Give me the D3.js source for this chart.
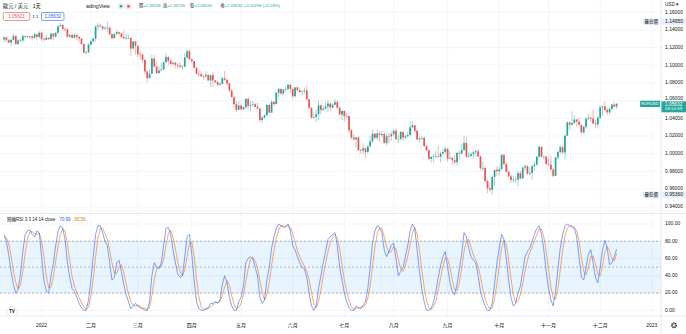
<!DOCTYPE html>
<html><head><meta charset="utf-8">
<script src="https://cdn.jsdelivr.net/npm/d3@7"></script>
<style>
html,body{margin:0;padding:0;background:#fff;}
svg{display:block;font-family:"Liberation Sans","Noto Sans CJK TC",sans-serif;}
</style></head><body>
<svg id="chart" width="686" height="334"></svg>
<script>
// EUR/USD daily candles, 10 Dec 2021 .. 12 Dec 2022 (bar 0 = 3 Jan 2022)
const firstBar = -16;
const opens = [
 1.1293,1.1316,1.1284,1.1258,1.1289,1.1331,1.1239,1.1281,1.1282,1.1330,1.1330,1.1320,1.1327,1.1310,1.1350,1.1322,
 1.1370,1.1297,1.1289,1.1312,1.1296,1.1360,1.1325,1.1368,1.1441,1.1455,1.1412,1.1408,1.1325,1.1343,1.1312,1.1344,1.1324,1.1303,1.1240,1.1144,1.1147,
 1.1235,1.1272,1.1302,1.1440,1.1451,1.1442,1.1415,1.1422,1.1426,1.1350,1.1307,1.1356,1.1375,1.1360,1.1321,1.1307,1.1307,1.1308,1.1191,1.1270,
 1.1220,1.1125,1.1121,1.1062,1.0930,1.0855,1.0906,1.1076,1.0986,1.0912,1.0942,1.0953,1.1035,1.1094,1.1050,1.1016,1.1029,1.1005,1.0996,1.0983,1.0985,1.1089,1.1159,
 1.1067,1.1048,1.0972,1.0904,1.0901,1.0877,1.0875,1.0889,1.0828,1.0889,1.0829,1.0810,1.0780,1.0789,1.0854,1.0837,1.0795,1.0715,1.0640,1.0560,1.0497,
 1.0545,1.0502,1.0524,1.0620,1.0542,1.0552,1.0559,1.0530,1.0512,1.0381,1.0412,1.0435,1.0551,1.0464,1.0585,1.0562,1.0690,1.0734,1.0681,1.0725,1.0733,1.0780,
 1.0733,1.0650,1.0750,1.0719,1.0697,1.0705,1.0716,1.0615,1.0519,1.0409,1.0416,1.0448,1.0548,1.0496,1.0510,1.0535,1.0567,1.0522,1.0554,1.0584,1.0519,1.0443,
 1.0484,1.0426,1.0425,1.0265,1.0183,1.0162,1.0184,1.0038,1.0036,1.0060,1.0018,1.0080,1.0141,1.0225,1.0180,1.0229,1.0211,1.0223,1.0121,1.0198,1.0197,
 1.0220,1.0260,1.0163,1.0166,1.0246,1.0182,1.0197,1.0212,1.0298,1.0321,1.0259,1.0160,1.0172,1.0179,1.0087,1.0037,0.9941,0.9966,0.9967,0.9973,0.9965,1.0004,1.0019,
 1.0055,0.9944,0.9953,0.9925,0.9903,1.0010,1.0000,1.0040,1.0121,0.9968,0.9977,0.9997,1.0016,1.0027,0.9970,0.9836,0.9837,0.9690,0.9607,0.9591,0.9736,0.9817,
 0.9802,0.9826,0.9986,0.9883,0.9794,0.9742,0.9703,0.9705,0.9707,0.9779,0.9721,0.9843,0.9858,0.9774,0.9782,0.9861,0.9877,0.9964,1.0077,0.9965,0.9966,
 0.9883,0.9876,0.9820,0.9749,0.9958,1.0019,1.0073,1.0014,1.0203,1.0355,1.0327,1.0348,1.0386,1.0363,1.0326,1.0241,1.0304,1.0396,1.0407,1.0398,1.0341,1.0331,
 1.0407,1.0524,1.0535,1.0494,1.0467,1.0506,1.0556,1.05336
];
const highs = [
 1.1327,1.1325,1.1300,1.1298,1.1360,1.1345,1.1306,1.1302,1.1345,1.1342,1.1337,1.1334,1.1339,1.1367,1.1360,1.1386,
 1.1376,1.1323,1.1346,1.1321,1.1364,1.1361,1.1375,1.1450,1.1482,1.1464,1.1425,1.1414,1.1353,1.1369,1.1363,1.1348,1.1330,1.1306,1.1245,1.1164,1.1245,
 1.1280,1.1313,1.1449,1.1483,1.1470,1.1448,1.1446,1.1495,1.1442,1.1367,1.1368,1.1395,1.1385,1.1370,1.1395,1.1357,1.1345,1.1322,1.1274,1.1278,
 1.1233,1.1156,1.1128,1.1068,1.0941,1.0955,1.1122,1.1122,1.1038,1.0984,1.1030,1.1045,1.1137,1.1107,1.1074,1.1041,1.1043,1.1025,1.1036,1.1000,1.1138,1.1185,1.1184,
 1.1076,1.1054,1.0985,1.0938,1.0935,1.0892,1.0933,1.0903,1.0899,1.0924,1.0838,1.0823,1.0810,1.0867,1.0936,1.0849,1.0805,1.0737,1.0657,1.0592,1.0594,
 1.0564,1.0544,1.0628,1.0642,1.0599,1.0596,1.0578,1.0578,1.0514,1.0422,1.0445,1.0562,1.0565,1.0606,1.0597,1.0697,1.0748,1.0737,1.0734,1.0765,1.0787,1.0786,
 1.0738,1.0751,1.0764,1.0748,1.0709,1.0748,1.0774,1.0621,1.0523,1.0469,1.0506,1.0601,1.0555,1.0546,1.0583,1.0606,1.0579,1.0570,1.0615,1.0606,1.0531,1.0487,
 1.0486,1.0462,1.0436,1.0274,1.0221,1.0186,1.0199,1.0059,1.0120,1.0072,1.0096,1.0201,1.0269,1.0235,1.0278,1.0254,1.0258,1.0248,1.0223,1.0235,1.0254,
 1.0274,1.0294,1.0210,1.0254,1.0253,1.0222,1.0248,1.0368,1.0368,1.0327,1.0268,1.0202,1.0202,1.0191,1.0096,1.0049,0.9969,0.9999,1.0029,1.0090,1.0026,1.0054,1.0080,
 1.0059,1.0033,0.9962,0.9989,1.0012,1.0030,1.0113,1.0198,1.0187,1.0020,1.0017,1.0036,1.0049,1.0050,0.9976,0.9907,0.9851,0.9710,0.9671,0.9752,0.9817,0.9854,
 0.9854,0.9999,0.9998,0.9902,0.9815,0.9757,0.9752,0.9744,0.9807,0.9808,0.9853,0.9876,0.9873,0.9846,0.9870,0.9907,0.9976,1.0094,1.0088,0.9976,0.9977,
 0.9952,0.9976,0.9828,0.9966,1.0033,1.0096,1.0095,1.0222,1.0365,1.0364,1.0480,1.0437,1.0393,1.0408,1.0328,1.0314,1.0408,1.0448,1.0428,1.0497,1.0382,1.0429,
 1.0545,1.0545,1.0595,1.0520,1.0530,1.0566,1.0588,1.05745
];
const lows = [
 1.1263,1.1262,1.1252,1.1222,1.1285,1.1236,1.1234,1.1260,1.1268,1.1300,1.1310,1.1295,1.1290,1.1300,1.1290,1.1300,
 1.1280,1.1272,1.1285,1.1285,1.1290,1.1285,1.1310,1.1357,1.1439,1.1396,1.1390,1.1311,1.1313,1.1301,1.1306,1.1286,1.1263,1.1235,1.1136,1.1121,1.1139,
 1.1222,1.1260,1.1268,1.1390,1.1422,1.1395,1.1403,1.1375,1.1343,1.1280,1.1301,1.1340,1.1335,1.1305,1.1300,1.1290,1.1300,1.1106,1.1176,1.1120,
 1.1090,1.1057,1.1033,1.0900,1.0806,1.0850,1.0903,1.0980,1.0902,1.0905,1.0940,1.0946,1.1025,1.1004,1.0998,1.0988,1.0966,1.0964,1.0966,1.0944,1.0975,1.1070,1.1059,
 1.1027,1.0966,1.0897,1.0873,1.0868,1.0837,1.0859,1.0821,1.0758,1.0757,1.0801,1.0761,1.0770,1.0786,1.0823,1.0770,1.0697,1.0636,1.0516,1.0471,1.0492,
 1.0490,1.0492,1.0505,1.0494,1.0483,1.0532,1.0520,1.0503,1.0354,1.0349,1.0389,1.0428,1.0459,1.0461,1.0532,1.0554,1.0642,1.0662,1.0664,1.0699,1.0722,1.0682,
 1.0627,1.0640,1.0706,1.0692,1.0653,1.0678,1.0612,1.0506,1.0398,1.0397,1.0360,1.0382,1.0444,1.0480,1.0499,1.0469,1.0492,1.0512,1.0549,1.0509,1.0437,1.0382,
 1.0366,1.0409,1.0236,1.0161,1.0144,1.0072,1.0034,0.9999,0.9998,0.9952,1.0007,1.0078,1.0122,1.0160,1.0153,1.0131,1.0181,1.0111,1.0095,1.0113,1.0144,
 1.0198,1.0160,1.0122,1.0147,1.0141,1.0159,1.0180,1.0203,1.0296,1.0239,1.0155,1.0123,1.0152,1.0074,1.0033,0.9926,0.9900,0.9903,0.9947,0.9948,0.9900,0.9980,0.9993,
 0.9910,0.9940,0.9877,0.9880,0.9864,0.9930,0.9995,1.0038,0.9955,0.9955,0.9956,0.9945,0.9967,0.9960,0.9810,0.9808,0.9668,0.9554,0.9571,0.9536,0.9634,0.9748,
 0.9752,0.9809,0.9875,0.9788,0.9730,0.9669,0.9669,0.9667,0.9632,0.9703,0.9716,0.9807,0.9757,0.9752,0.9705,0.9808,0.9861,0.9957,0.9958,0.9925,0.9870,
 0.9853,0.9815,0.9730,0.9747,0.9924,0.9994,1.0000,0.9935,1.0198,1.0271,1.0323,1.0340,1.0300,1.0326,1.0223,1.0227,1.0282,1.0381,1.0361,1.0336,1.0289,1.0288,
 1.0393,1.0429,1.0482,1.0442,1.0443,1.0500,1.0520,1.05060
];
const closes = [
 1.1316,1.1284,1.1258,1.1289,1.1331,1.1239,1.1281,1.1282,1.1330,1.1330,1.1320,1.1327,1.1310,1.1350,1.1322,1.1370,
 1.1297,1.1289,1.1312,1.1296,1.1360,1.1325,1.1368,1.1441,1.1455,1.1412,1.1408,1.1325,1.1343,1.1312,1.1344,1.1324,1.1303,1.1240,1.1144,1.1147,1.1235,
 1.1272,1.1302,1.1440,1.1451,1.1442,1.1415,1.1422,1.1426,1.1350,1.1307,1.1356,1.1375,1.1360,1.1321,1.1307,1.1307,1.1308,1.1191,1.1270,1.1220,
 1.1125,1.1121,1.1062,1.0930,1.0855,1.0906,1.1076,1.0986,1.0912,1.0942,1.0953,1.1035,1.1094,1.1050,1.1016,1.1029,1.1005,1.0996,1.0983,1.0985,1.1089,1.1159,1.1067,
 1.1048,1.0972,1.0904,1.0901,1.0877,1.0875,1.0889,1.0828,1.0889,1.0829,1.0810,1.0780,1.0789,1.0854,1.0837,1.0795,1.0715,1.0640,1.0560,1.0497,1.0545,
 1.0502,1.0524,1.0620,1.0542,1.0552,1.0559,1.0530,1.0512,1.0381,1.0412,1.0435,1.0551,1.0464,1.0585,1.0562,1.0690,1.0734,1.0681,1.0725,1.0733,1.0780,1.0733,
 1.0650,1.0750,1.0719,1.0697,1.0705,1.0716,1.0615,1.0519,1.0409,1.0416,1.0448,1.0548,1.0496,1.0510,1.0535,1.0567,1.0522,1.0554,1.0584,1.0519,1.0443,1.0484,
 1.0426,1.0425,1.0265,1.0183,1.0162,1.0184,1.0038,1.0036,1.0060,1.0018,1.0080,1.0141,1.0225,1.0180,1.0229,1.0211,1.0223,1.0121,1.0198,1.0197,1.0220,
 1.0260,1.0163,1.0166,1.0246,1.0182,1.0197,1.0212,1.0298,1.0321,1.0259,1.0160,1.0172,1.0179,1.0087,1.0037,0.9941,0.9966,0.9967,0.9973,0.9965,1.0004,1.0019,1.0055,
 0.9944,0.9953,0.9925,0.9903,1.0010,1.0000,1.0040,1.0121,0.9968,0.9977,0.9997,1.0016,1.0027,0.9970,0.9836,0.9837,0.9690,0.9607,0.9591,0.9736,0.9817,0.9802,
 0.9826,0.9986,0.9883,0.9794,0.9742,0.9703,0.9705,0.9707,0.9779,0.9721,0.9843,0.9858,0.9774,0.9782,0.9861,0.9877,0.9964,1.0077,0.9965,0.9966,0.9883,
 0.9876,0.9820,0.9749,0.9958,1.0019,1.0073,1.0014,1.0203,1.0355,1.0327,1.0348,1.0386,1.0363,1.0326,1.0241,1.0304,1.0396,1.0407,1.0398,1.0341,1.0331,1.0407,
 1.0524,1.0535,1.0494,1.0467,1.0506,1.0556,1.0533,1.05632
];

// Stochastic RSI (3, 3, 14, 14): %K and %D per bar
const stochK = [
 88,80,64,45,30,20,24,42,68,88, 92,93,88,85,92,90,62,35,22,20,
 40,55,75,92,98,95,82,55,38,25, 22,15,8,3,0,0,12,35,62,88,
 98,98,90,80,75,55,35,38,55,58, 45,30,18,10,2,5,8,5,3,2,
 0,0,10,40,55,50,48,55,75,95, 96,88,70,55,42,38,40,62,85,88,
 65,35,10,2,0,0,2,3,8,8, 10,8,12,30,40,32,15,5,0,0,
 10,15,28,55,60,62,60,50,40,15, 8,12,35,50,72,85,95,100,98,96,
 97,100,92,75,70,62,55,50,48,38, 20,5,0,5,25,40,55,68,82,85,
 88,90,75,50,35,20,10,3,0,0, 5,3,2,6,10,25,50,78,92,98,
 96,90,70,62,68,75,78,60,40,45, 50,62,75,92,100,95,70,45,25,10,
 0,0,2,10,22,38,52,62,68,50, 32,22,18,30,48,65,90,85,72,62,
 58,55,40,22,12,5,0,0,8,30, 55,72,88,82,60,35,15,5,8,20,
 28,45,62,68,72,80,88,95,98,88, 70,45,25,12,5,22,48,72,88,97,
 100,98,96,95,85,62,38,35,50,65, 70,55,38,32,50,70,81,72,53,55,
 62,70.99
];
const stochD = [
 85,84,77,63,46,32,25,29,45,66, 83,91,91,89,88,89,81,62,40,26,
 27,38,57,74,88,95,92,77,58,39, 28,21,15,9,4,1,4,16,36,62,
 83,95,95,89,82,70,55,43,43,50, 53,44,31,19,10,6,5,6,5,3,
 2,1,3,17,35,48,51,51,59,75, 89,93,85,71,56,45,40,47,62,78,
 79,63,37,16,4,1,1,2,4,6, 9,9,10,17,27,34,29,17,7,2,
 3,8,18,33,48,59,61,57,50,35, 21,12,18,32,52,69,84,93,98,98,
 97,98,96,89,79,69,62,56,51,45, 35,21,8,3,10,23,40,54,68,78,
 85,88,84,72,53,35,22,11,4,1, 2,3,3,4,6,14,28,51,73,89,
 95,95,85,74,67,68,74,71,59,48, 45,52,62,76,89,96,88,70,47,27,
 12,3,1,4,11,23,37,51,61,60, 50,35,24,23,32,48,68,80,82,73,
 64,58,51,39,25,13,6,2,3,13, 31,52,72,81,77,59,37,18,9,11,
 18,31,45,58,67,73,80,88,94,94, 85,68,47,27,14,13,25,47,69,86,
 95,98,98,96,92,81,62,45,41,50, 62,63,54,42,40,51,67,74,69,60,
 57,65.56
];

// Time axis: bar index of the first session of each month
const monthTicks = [0,21,41,64,85,107,129,150,173,195,216,238,260];
const monthLabels = ["2022","二月","三月","四月","五月","六月","七月","八月","九月","十月","十一月","十二月","2023"];
const priceTicks = [0.94,0.96,0.98,1.00,1.02,1.04,1.06,1.08,1.10,1.12,1.14,1.16];
const stochTicks = [0,20,40,60,80,100];

const UP = "#26a69a", DOWN = "#ef5350", GRID = "#f0f3fa", BORDER = "#e0e3eb", TXT = "#131722";
const svg = d3.select("#chart");
const plotRight = 661, mainBottom = 213.5, stochTop = 213.5, stochBottom = 316;

const x = d3.scaleLinear().domain([0, 260]).range([41.6, 651.8]);
const y = d3.scaleLinear().domain([0.94, 1.16]).range([206.7, 12.3]);
const ys = d3.scaleLinear().domain([0, 100]).range([310.3, 224]);

const defs = svg.append("defs");
defs.append("clipPath").attr("id","clipMain").append("rect").attr("x",0).attr("y",0).attr("width",plotRight).attr("height",mainBottom);
defs.append("clipPath").attr("id","clipStoch").append("rect").attr("x",0).attr("y",stochTop).attr("width",plotRight).attr("height",stochBottom-stochTop);

// grid
const grid = svg.append("g");
grid.selectAll(".vg").data(monthTicks).join("line")
  .attr("x1",d=>x(d)).attr("x2",d=>x(d)).attr("y1",0).attr("y2",stochBottom)
  .attr("stroke",GRID).attr("stroke-width",0.8);
grid.selectAll(".hg").data(priceTicks).join("line")
  .attr("x1",0).attr("x2",plotRight).attr("y1",d=>y(d)).attr("y2",d=>y(d))
  .attr("stroke",GRID).attr("stroke-width",0.8);
grid.selectAll(".sg").data(stochTicks).join("line")
  .attr("x1",0).attr("x2",plotRight).attr("y1",d=>ys(d)).attr("y2",d=>ys(d))
  .attr("stroke",GRID).attr("stroke-width",0.8);

// candles
const bars = closes.map((c,i)=>({b:i+firstBar,o:opens[i],h:highs[i],l:lows[i],c}));
const cg = svg.append("g").attr("clip-path","url(#clipMain)");
cg.selectAll(".wick").data(bars).join("line")
  .attr("x1",d=>x(d.b)).attr("x2",d=>x(d.b))
  .attr("y1",d=>y(d.h)).attr("y2",d=>y(d.l))
  .attr("stroke",d=>d.c>=d.o?UP:DOWN).attr("stroke-opacity",0.55).attr("stroke-width",0.8);
cg.selectAll(".body").data(bars).join("rect")
  .attr("x",d=>x(d.b)-0.85).attr("width",1.7)
  .attr("y",d=>y(Math.max(d.o,d.c)))
  .attr("height",d=>Math.max(0.6, Math.abs(y(d.o)-y(d.c))))
  .attr("fill",d=>d.c>=d.o?UP:DOWN);

// stochastic pane
const sg = svg.append("g").attr("clip-path","url(#clipStoch)");
sg.append("rect").attr("x",0).attr("width",plotRight).attr("y",ys(80)).attr("height",ys(20)-ys(80))
  .attr("fill","#2196f3").attr("fill-opacity",0.1);
[80,50,20].forEach(v=>{
  sg.append("line").attr("x1",0).attr("x2",plotRight).attr("y1",ys(v)).attr("y2",ys(v))
    .attr("stroke","#9598a1").attr("stroke-width",0.7).attr("stroke-dasharray","2,2");
});
const line = d3.line().x((d,i)=>x(i+firstBar)).y(d=>ys(d));
sg.append("path").datum(stochD).attr("d",line).attr("fill","none").attr("stroke","#ff6d00").attr("stroke-opacity",0.75).attr("stroke-width",0.8);
sg.append("path").datum(stochK).attr("d",line).attr("fill","none").attr("stroke","#2962ff").attr("stroke-opacity",0.75).attr("stroke-width",0.8);

// pane borders
svg.append("line").attr("x1",0).attr("x2",686).attr("y1",mainBottom).attr("y2",mainBottom).attr("stroke",BORDER).attr("stroke-width",0.8);
svg.append("line").attr("x1",0).attr("x2",686).attr("y1",stochBottom).attr("y2",stochBottom).attr("stroke",BORDER).attr("stroke-width",0.8);
svg.append("line").attr("x1",plotRight).attr("x2",plotRight).attr("y1",0).attr("y2",334).attr("stroke",BORDER).attr("stroke-width",0.8);

// price axis (a tick label crowding the last-price tag is nudged clear of it)
const fmt5 = d3.format(".5f"), fmt2 = d3.format(".2f");
const last = closes[closes.length-1];
const tagTop = y(last) - 2.6;
const pa = svg.append("g").attr("font-size",5).attr("fill",TXT);
pa.selectAll("text").data(priceTicks).join("text")
  .attr("x",665)
  .attr("y",d=>{ const py = y(d); return (py < tagTop + 1 && py > tagTop - 3) ? tagTop - 2.2 : py; })
  .attr("dominant-baseline","middle").text(d=>fmt5(d));
svg.append("text").attr("x",665).attr("y",4.5).attr("font-size",4.6).attr("fill",TXT).attr("dominant-baseline","middle").text("USD ▾");

// stoch axis
const sa = svg.append("g").attr("font-size",5).attr("fill",TXT);
sa.selectAll("text").data(stochTicks).join("text")
  .attr("x",665).attr("y",d=>ys(d)).attr("dominant-baseline","middle").text(d=>fmt2(d));

// time axis
const ta = svg.append("g").attr("font-size",5).attr("fill",TXT);
ta.selectAll("text").data(monthTicks).join("text")
  .attr("x",d=>x(d)).attr("y",325.5).attr("text-anchor","middle").attr("dominant-baseline","middle")
  .text((d,i)=>monthLabels[i]);

// highest / lowest markers
const hiVal = d3.max(highs), loVal = d3.min(lows);
[[hiVal,"最高價"],[loVal,"最低價"]].forEach(([v,lab])=>{
  svg.append("rect").attr("x",643).attr("y",y(v)-3.2).attr("width",16.5).attr("height",6.4).attr("rx",0.8).attr("fill","#e3ecfb");
  svg.append("text").attr("x",651.2).attr("y",y(v)+0.2).attr("font-size",4.4).attr("fill",TXT)
    .attr("text-anchor","middle").attr("dominant-baseline","middle").text(lab);
  svg.append("rect").attr("x",661.5).attr("y",y(v)-3.2).attr("width",24.5).attr("height",6.4).attr("fill","#e8eef9");
  svg.append("text").attr("x",665).attr("y",y(v)).attr("font-size",5).attr("fill",TXT)
    .attr("dominant-baseline","middle").text(fmt5(v));
});

// last price tag
svg.append("rect").attr("x",640).attr("y",y(last)-3.2).attr("width",20).attr("height",6.4).attr("rx",0.8).attr("fill",UP);
svg.append("text").attr("x",650).attr("y",y(last)+0.2).attr("font-size",4.3).attr("fill","#fff")
  .attr("text-anchor","middle").attr("dominant-baseline","middle").text("EURUSD");
svg.append("rect").attr("x",661.5).attr("y",tagTop).attr("width",24.5).attr("height",11).attr("fill",UP);
svg.append("text").attr("x",665).attr("y",y(last)+0.4).attr("font-size",4.8).attr("fill","#fff").attr("dominant-baseline","middle").text(fmt5(last));
svg.append("text").attr("x",665).attr("y",y(last)+5.2).attr("font-size",4.4).attr("fill","#fff").attr("dominant-baseline","middle").text("09:14:59");

// header legend
const lg = svg.append("g").attr("font-size",4.2).attr("dominant-baseline","middle");
lg.append("text").attr("x",3).attr("y",6.3).attr("font-size",5.2).attr("fill",TXT).text("歐元 / 美元 · 1天");
lg.append("rect").attr("x",49.5).attr("y",1).attr("width",36).attr("height",10).attr("fill","#fff");
lg.append("text").attr("x",86).attr("y",6.3).attr("font-size",5.2).attr("fill",TXT).text("adingView");
lg.append("rect").attr("x",117.5).attr("y",3.3).attr("width",7).attr("height",6).attr("rx",3).attr("fill","#e0f3f1");
lg.append("circle").attr("cx",121).attr("cy",6.3).attr("r",1.3).attr("fill",UP);
lg.append("rect").attr("x",125.5).attr("y",3.3).attr("width",6).attr("height",6).attr("rx",2).attr("fill","#fde4e6");
lg.append("rect").attr("x",127.3).attr("y",5.1).attr("width",2.4).attr("height",2.4).attr("fill",DOWN);
const ohlc = [["開",1.05336,139],["高",1.05745,163],["低",1.05060,190],["收",1.05632,220.5]];
ohlc.forEach(([k,v,px])=>{
  const t = lg.append("text").attr("x",px).attr("y",6.3);
  t.append("tspan").attr("fill",TXT).text(k);
  t.append("tspan").attr("fill",UP).text("=" + fmt5(v));
});
lg.append("text").attr("x",244).attr("y",6.3).attr("fill",UP).text("+0.00296 (+0.28%)");

// bid / ask boxes
lg.append("rect").attr("x",3.3).attr("y",12.5).attr("width",26.5).attr("height",8).attr("rx",1.5)
  .attr("fill","#fff").attr("stroke",DOWN).attr("stroke-width",0.6);
lg.append("text").attr("x",16.5).attr("y",16.7).attr("text-anchor","middle").attr("font-size",4.6).attr("fill",DOWN).text("1.05621");
lg.append("text").attr("x",35.5).attr("y",16.7).attr("text-anchor","middle").attr("fill",TXT).text("1.1");
lg.append("rect").attr("x",41.5).attr("y",12.5).attr("width",22.5).attr("height",8).attr("rx",1.5)
  .attr("fill","#fff").attr("stroke","#2962ff").attr("stroke-width",0.6);
lg.append("text").attr("x",52.7).attr("y",16.7).attr("text-anchor","middle").attr("font-size",4.6).attr("fill","#2962ff").text("1.05632");

// stochastic legend
const sl = svg.append("text").attr("x",7).attr("y",219.5).attr("font-size",4.5).attr("dominant-baseline","middle");
sl.append("tspan").attr("fill",TXT).text("隨機RSI 3 3 14 14 close");
sl.append("tspan").attr("fill","#2962ff").attr("dx",4).text(fmt2(stochK[stochK.length-1]));
sl.append("tspan").attr("fill","#ff6d00").attr("dx",4).text(fmt2(stochD[stochD.length-1]));

// logo and settings icon
const logo = svg.append("g").attr("transform","translate(12,311.5)");
logo.append("circle").attr("r",5).attr("fill","#fff").attr("stroke","#e0e3eb").attr("stroke-width",0.6);
logo.append("text").attr("text-anchor","middle").attr("dominant-baseline","middle").attr("y",0.3)
  .attr("font-size",4.6).attr("font-weight","bold").attr("fill",TXT).text("TV");
const gear = svg.append("g").attr("transform","translate(674,325.3)");
gear.append("circle").attr("r",2.4).attr("fill","none").attr("stroke",TXT).attr("stroke-width",1.1).attr("stroke-dasharray","1.1,0.8");
gear.append("circle").attr("r",1.6).attr("fill","none").attr("stroke",TXT).attr("stroke-width",0.6);
</script>
</body></html>
